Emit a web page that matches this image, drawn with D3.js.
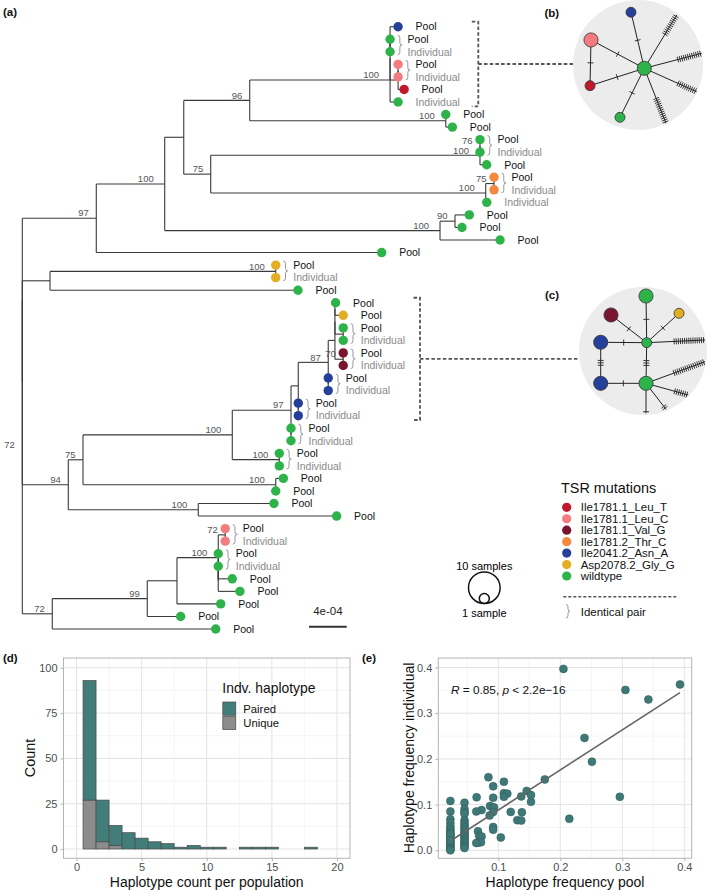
<!DOCTYPE html>
<html><head><meta charset="utf-8">
<script src="https://cdn.jsdelivr.net/npm/d3@7"></script>
<style>body{margin:0;background:#fff}svg{display:block;font-family:"Liberation Sans",Arial,Helvetica,sans-serif}</style>
</head><body><svg id="fig" width="709" height="891"></svg>
<script>
// ======================= DATA =======================
// Phylogeny (branch lengths in units of 1e-4 substitutions/site, internal labels = bootstrap)
const treeNewick = `(
 (
  (
   (
    (
     ((((L1:0.85,(L2:0,L3:0):0):0,((L4:0,L5:0):0,L6:0.64):0.85):0,L7:0.85)100:14.89,
      (L8:0,L9:0.70)100:20.80)96:7.00,
     (((L10:0,L11:0)76:0,L12:0.71)100:28.57,
      ((L13:0,L14:0)75:0.88,L15:0.11)100:29.18)75:2.86
    ):2.02,
    ((L16:1.52,L17:0.74)90:1.59,L18:6.37)100:29.21
   )100:7.26,
   L19:30.28
  )97:7.85,
  (
   ((L20:0,L21:0)100:23.95,L22:26.31):2.94,
   (
    (
     (
      (
       (
        ((((L23:0.07,L24:0.88):0,(L25:0,L26:0):0.88):0,(L27:0,L28:0)70:0.88):0.71,
         (L29:0,L30:0):0)87:3.18,
        (L31:0,L32:0):0
       ):0.77,
       (L33:0,L34:0):0
      )97:6.23,
      (L35:0,L36:0)100:4.99
     )100:15.84,
     (L37:0.81,L38:0)100:20.45
    )75:1.56,
    (L39:8.03,L40:14.68)100:13.79
   )94:4.88
  ):0
 ):0,
 (
  (
   (
    ((L41:0,L42:0)72:0.74,(((L43:0,L44:0):0,L45:1.49):0,L46:2.30):0)100:4.38,
    L47:4.64
   ):3.15,
   L48:3.54
  )99:10.08,
  L49:17.34
 )72:3.18
)72;`;
const scaleBarValue = 4;          // x 1e-4  -> "4e-04"
const scaleBarLabel = "4e-04";

const tipSample = ["Pool","Pool","Individual","Pool","Individual","Pool","Individual",
  "Pool","Pool","Pool","Individual","Pool","Pool","Individual","Individual",
  "Pool","Pool","Pool","Pool",
  "Pool","Individual","Pool",
  "Pool","Pool","Pool","Individual","Pool","Individual","Pool","Individual","Pool","Individual",
  "Pool","Individual","Pool","Individual","Pool","Pool","Pool","Pool",
  "Pool","Individual","Pool","Individual","Pool","Pool","Pool","Pool","Pool"];
const tipMutation = ["Ile2041.2_Asn_A","wildtype","wildtype","Ile1781.1_Leu_C","Ile1781.1_Leu_C","Ile1781.1_Leu_T","wildtype",
  "wildtype","wildtype","wildtype","wildtype","wildtype","Ile1781.2_Thr_C","Ile1781.2_Thr_C","wildtype",
  "wildtype","wildtype","wildtype","wildtype",
  "Asp2078.2_Gly_G","Asp2078.2_Gly_G","wildtype",
  "wildtype","Asp2078.2_Gly_G","wildtype","wildtype","Ile1781.1_Val_G","Ile1781.1_Val_G","Ile2041.2_Asn_A","Ile2041.2_Asn_A","Ile2041.2_Asn_A","Ile2041.2_Asn_A",
  "wildtype","wildtype","wildtype","wildtype","wildtype","wildtype","wildtype","wildtype",
  "Ile1781.1_Leu_C","Ile1781.1_Leu_C","wildtype","wildtype","wildtype","wildtype","wildtype","wildtype","wildtype"];
const identicalPairs = [[2,3],[4,5],[10,11],[13,14],[20,21],[25,26],[27,28],[29,30],[31,32],[33,34],[35,36],[41,42],[43,44]];

const mutationNames  = ["Ile1781.1_Leu_T","Ile1781.1_Leu_C","Ile1781.1_Val_G","Ile1781.2_Thr_C","Ile2041.2_Asn_A","Asp2078.2_Gly_G","wildtype"];
const mutationColors = ["#c0192c","#f47c80","#7a1530","#f5883c","#24409a","#e3ad24","#2db34a"];

// Haplotype network (b): nodes (count 0 = unsampled end of long branch), layout in circle units
const netB_mut   = ["Ile2041.2_Asn_A","Ile1781.1_Leu_C","Ile1781.1_Leu_T","wildtype","wildtype",null,null,null,null];
const netB_count = [1,2,1,2,1,0,0,0,0];
const netB_lx    = [-0.108,-0.723,-0.738,0.097,-0.277,0.595,0.980,0.903,0.431];
const netB_ly    = [-0.811,-0.385,0.318,0.051,0.805,-0.769,-0.180,0.411,0.897];
const netB_edges = [[1,2,1],[1,3,1],[2,3,1],[0,3,1],[4,3,1],[3,5,11],[3,6,12],[3,7,10],[3,8,13]];
// Haplotype network (c)
const netC_mut   = ["wildtype","Ile1781.1_Val_G","Asp2078.2_Gly_G","Ile2041.2_Asn_A","wildtype","Ile2041.2_Asn_A","wildtype",null,null,null,null,null];
const netC_count = [2,2,1,2,1,2,2,0,0,0,0,0];
const netC_lx    = [0.047,-0.500,0.563,-0.661,0.058,-0.661,0.047,0.969,0.969,0.708,0.359,0.047];
const netC_ly    = [-0.859,-0.563,-0.589,-0.136,-0.130,0.505,0.505,-0.172,0.167,0.688,0.911,0.973];
const netC_edges = [[0,4,1],[1,4,1],[2,4,1],[3,4,1],[3,5,3],[4,6,3],[5,6,1],[4,7,15],[6,8,16],[6,9,7],[6,10,2],[6,11,1]];
const sizeLegendCounts = [10,1];

// (d) histogram: haplotype count per population, bins of width 1
const histBin    = [1,2,3,4,5,6,7,8,9,10,11,12,13,14,15,16,17,18];
const histPaired = [66,23,11,9,6,4,3,1,2,1,1,0,1,1,1,0,0,1];
const histUnique = [27,4,2,0,0,0,0,0,0,0,0,0,0,0,0,0,0,0];
const histXTicks = [0,5,10,15,20];
const histYTicks = [0,25,50,75,100];

// (e) haplotype frequency pool vs individual
const freqPool = [
 0.0227,0.0227,0.0227,0.0227,0.0227,0.0227,0.0227,0.0227,0.0227,0.0227,0.0227,0.0227,0.0227,0.0227,0.0227,0.0227,0.0227,0.0227,0.0227,0.0227,0.0227,0.0227,
 0.0455,0.0455,0.0455,0.0455,0.0455,0.0455,0.0455,0.0455,0.0455,0.0455,0.0455,0.0455,0.0455,0.0455,0.0455,0.0455,0.0455,0.0455,0.0455,
 0.205,0.393,0.305,0.342,0.239,0.251,0.296,0.2145,0.175,0.084,0.109,0.0917,0.109,0.1145,0.109,0.1458,0.1527,0.137,0.1527,0.065,
 0.0917,0.0866,0.093,0.073,0.0645,0.0917,0.120,0.138,0.086,0.1306,0.137,0.0917,0.0917,0.104,0.0672,0.069,0.073,0.0672,0.072,0.0645];
const freqIndiv = [
 0.108,0.085,0.068,0.060,0.052,0.047,0.042,0.038,0.034,0.030,0.027,0.024,0.020,0.017,0.014,0.011,0.008,0.005,0.002,0.000,0.036,0.022,
 0.104,0.090,0.083,0.080,0.066,0.060,0.055,0.050,0.045,0.040,0.036,0.032,0.028,0.024,0.020,0.016,0.012,0.008,0.005,
 0.397,0.363,0.351,0.330,0.246,0.194,0.117,0.069,0.155,0.160,0.150,0.140,0.125,0.124,0.117,0.130,0.121,0.118,0.106,0.116,
 0.115,0.097,0.094,0.088,0.085,0.084,0.084,0.083,0.076,0.066,0.065,0.051,0.045,0.028,0.0415,0.032,0.030,0.0167,0.0175,0.016];
// linear fit shown in the figure (coefficients)
const fitSlope = 0.877, fitIntercept = 0.0005;
const scatXTicks = [0.1,0.2,0.3,0.4];
const scatYTicks = [0.0,0.1,0.2,0.3,0.4];

// ======================= DRAWING =======================
const svg = d3.select("#fig");
const colorOf = d3.scaleOrdinal().domain(mutationNames).range(mutationColors);
const LINE = "#3a3a3a";

function parseNewick(s){
  s = s.replace(/\s+/g,""); let i=0;
  function node(){
    const n={children:[],name:"",length:0};
    if(s[i]==="("){ i++; for(;;){ n.children.push(node()); if(s[i]===","){i++;continue;} if(s[i]===")"){i++;break;} } }
    while(i<s.length && !":,();".includes(s[i])) n.name+=s[i++];
    if(s[i]===":"){ i++; let v=""; while(i<s.length && !",();".includes(s[i])) v+=s[i++]; n.length=+v; }
    return n;
  }
  return node();
}
function brace(x,y1,y2,w){
  const ym=(y1+y2)/2, q=Math.min(2.5,(y2-y1)/4), xm=x+w/2;
  return `M${x},${y1}Q${xm},${y1} ${xm},${y1+q}L${xm},${ym-q}Q${xm},${ym} ${x+w},${ym}Q${xm},${ym} ${xm},${ym+q}L${xm},${y2-q}Q${xm},${y2} ${x},${y2}`;
}

// ---------- (a) tree ----------
const root = d3.hierarchy(parseNewick(treeNewick), d => d.children.length ? d.children : null);
root.each(d => { d.dist = d.parent ? d.parent.dist + d.data.length : 0; });
const leaves = root.leaves();
const tx = d3.scaleLinear().domain([0, scaleBarValue]).range([22.3, 22.3 + 37.7]);
const ty = d3.scaleLinear().domain([0, leaves.length - 1]).range([26.7, 629]);
leaves.forEach((l, i) => { l.idx = +l.data.name.slice(1) - 1; l.py = ty(i); });
root.eachAfter(d => { if (d.children) d.py = d3.mean(d.children, c => c.py); d.px = tx(d.dist); });
const byIdx = {}; leaves.forEach(l => byIdx[l.idx] = l);

const gT = svg.append("g");
gT.selectAll("path.h").data(root.descendants().filter(d => d.parent)).join("path")
  .attr("d", d => `M${d.parent.px},${d.py}H${d.px}`).attr("stroke", LINE).attr("stroke-width", 1.1).attr("fill", "none");
gT.selectAll("path.v").data(root.descendants().filter(d => d.children)).join("path")
  .attr("d", d => `M${d.px},${d3.min(d.children, c => c.py)}V${d3.max(d.children, c => c.py)}`)
  .attr("stroke", LINE).attr("stroke-width", 1.1).attr("fill", "none");
// bootstrap labels
gT.selectAll("text.bs").data(root.descendants().filter(d => d.children && d.data.name)).join("text")
  .attr("x", d => d.px - (d.data.name.length * 3.5 + 0.5)).attr("y", d => d.py - 1.8 - (d.parent ? 0 : 7))
  .attr("text-anchor", "end").attr("font-size", 9.5).attr("fill", "#555").text(d => d.data.name);
// identical-pair braces
gT.selectAll("path.br").data(identicalPairs).join("path")
  .attr("d", p => { const a = byIdx[p[0]-1], b = byIdx[p[1]-1]; return brace(Math.max(a.px,b.px) + 7.5, a.py - 4, b.py + 3, 4.5); })
  .attr("fill", "none").attr("stroke", "#8c8c8c").attr("stroke-width", 0.9);
// tip points and labels
gT.selectAll("circle.tip").data(leaves).join("circle")
  .attr("cx", d => d.px).attr("cy", d => d.py).attr("r", 4.7).attr("fill", d => colorOf(tipMutation[d.idx]));
gT.selectAll("text.tip").data(leaves).join("text")
  .attr("x", d => d.px + 17.5).attr("y", d => d.py).attr("dy", "0.36em").attr("font-size", 10.5)
  .attr("fill", d => tipSample[d.idx] === "Pool" ? "#111" : "#8a8a8a").text(d => tipSample[d.idx]);
// scale bar
gT.append("line").attr("x1", 309).attr("x2", 309 + tx(scaleBarValue) - tx(0)).attr("y1", 626.7).attr("y2", 626.7)
  .attr("stroke", "#333").attr("stroke-width", 2);
gT.append("text").attr("x", 309 + (tx(scaleBarValue) - tx(0)) / 2).attr("y", 615).attr("text-anchor", "middle")
  .attr("font-size", 11.5).attr("fill", "#222").text(scaleBarLabel);

// dashed clade brackets linking to networks
function cladeBracket(firstTip, lastTip, bx, targetX){
  const y1 = byIdx[firstTip-1].py - 5, y2 = byIdx[lastTip-1].py + 4.3, ym = (y1 + y2) / 2;
  const g = svg.append("g").attr("fill","none").attr("stroke","#555").attr("stroke-width",1.8).attr("stroke-dasharray","3.5,2.2");
  g.append("path").attr("d", `M${bx-6.5},${y1}H${bx}V${y2}H${bx-6.5}`);
  g.append("path").attr("d", `M${bx},${ym}H${targetX}`);
}
cladeBracket(1, 7, 478.3, 573);
cladeBracket(23, 32, 420, 579);

// ---------- (b),(c) haplotype networks ----------
const rSize = d3.scaleSqrt().domain([0, 1]).range([0, 5]);
function drawNet(cx, cy, R, mut, count, lx, ly, edges){
  const sx = d3.scaleLinear().domain([-1, 1]).range([cx - R, cx + R]);
  const sy = d3.scaleLinear().domain([-1, 1]).range([cy - R, cy + R]);
  const g = svg.append("g");
  g.append("circle").attr("cx", cx).attr("cy", cy).attr("r", R).attr("fill", "#ececec");
  edges.forEach(([a, b, k]) => {
    const x1 = sx(lx[a]), y1 = sy(ly[a]), x2 = sx(lx[b]), y2 = sy(ly[b]);
    g.append("line").attr("x1", x1).attr("y1", y1).attr("x2", x2).attr("y2", y2).attr("stroke", "#222").attr("stroke-width", 1);
    const L = Math.hypot(x2 - x1, y2 - y1), ux = (x2 - x1) / L, uy = (y2 - y1) / L;
    const stub = count[b] === 0;
    const pos = d3.range(k).map(j => stub ? L - 1.5 - j * 2.1 : L / 2 + (j - (k - 1) / 2) * 2.4);
    pos.forEach(p => {
      const px = x1 + ux * p, py = y1 + uy * p;
      g.append("line").attr("x1", px - uy * 3).attr("y1", py + ux * 3).attr("x2", px + uy * 3).attr("y2", py - ux * 3)
        .attr("stroke", "#222").attr("stroke-width", 0.9);
    });
  });
  count.forEach((n, i) => {
    if (!n) return;
    g.append("circle").attr("cx", sx(lx[i])).attr("cy", sy(ly[i])).attr("r", rSize(n))
      .attr("fill", colorOf(mut[i])).attr("stroke", "#333").attr("stroke-width", 0.8);
  });
}
drawNet(638, 65, 65, netB_mut, netB_count, netB_lx, netB_ly, netB_edges);
drawNet(643, 351, 64, netC_mut, netC_count, netC_lx, netC_ly, netC_edges);

// panel tags
[["(a)",3,16],["(b)",544.5,16.5],["(c)",545,299],["(d)",3,662],["(e)",362,662]].forEach(([t,x,y]) =>
  svg.append("text").attr("x", x).attr("y", y).attr("font-size", 11.5).attr("font-weight", "bold").attr("fill", "#111").text(t));

// ---------- legends for (a)-(c) ----------
const gL = svg.append("g");
gL.append("text").attr("x", 561).attr("y", 493).attr("font-size", 14.4).attr("fill", "#111").text("TSR mutations");
gL.selectAll("circle.lg").data(mutationNames).join("circle")
  .attr("cx", 566.7).attr("cy", (d, i) => 507.3 + i * 11.45).attr("r", 4.6).attr("fill", d => colorOf(d));
gL.selectAll("text.lg").data(mutationNames).join("text")
  .attr("x", 580.7).attr("y", (d, i) => 507.3 + i * 11.45).attr("dy", "0.36em").attr("font-size", 11.5).attr("fill", "#111").text(d => d);
gL.append("line").attr("x1", 563.3).attr("x2", 676.7).attr("y1", 596.7).attr("y2", 596.7)
  .attr("stroke", "#555").attr("stroke-width", 1.5).attr("stroke-dasharray", "3,2");
gL.append("path").attr("d", brace(566, 604.5, 618, 4)).attr("fill", "none").attr("stroke", "#8c8c8c").attr("stroke-width", 0.9);
gL.append("text").attr("x", 580.7).attr("y", 611.7).attr("dy", "0.36em").attr("font-size", 11.5).attr("fill", "#111").text("Identical pair");
// size legend
const sizeBottom = 603.5;
sizeLegendCounts.forEach(n => gL.append("circle").attr("cx", 484.3).attr("cy", sizeBottom - rSize(n)).attr("r", rSize(n))
  .attr("fill", "none").attr("stroke", "#111").attr("stroke-width", 1.5));
gL.append("text").attr("x", 484.3).attr("y", 565.7).attr("dy", "0.36em").attr("text-anchor", "middle").attr("font-size", 11).text(sizeLegendCounts[0] + " samples");
gL.append("text").attr("x", 484.3).attr("y", 613.3).attr("dy", "0.36em").attr("text-anchor", "middle").attr("font-size", 11).text(sizeLegendCounts[1] + " sample");

// ---------- shared ggplot-like panel ----------
function panel(xs, ys, xMajor, yMajor, xMinor, yMinor, xFmt, yFmt){
  const [x0, x1] = xs.range(), [y0, y1] = ys.range();
  const g = svg.append("g");
  xMinor.forEach(v => g.append("line").attr("x1", xs(v)).attr("x2", xs(v)).attr("y1", y0).attr("y2", y1).attr("stroke", "#efefef").attr("stroke-width", 0.6));
  yMinor.forEach(v => g.append("line").attr("y1", ys(v)).attr("y2", ys(v)).attr("x1", x0).attr("x2", x1).attr("stroke", "#efefef").attr("stroke-width", 0.6));
  xMajor.forEach(v => g.append("line").attr("x1", xs(v)).attr("x2", xs(v)).attr("y1", y0).attr("y2", y1).attr("stroke", "#e4e4e4").attr("stroke-width", 1));
  yMajor.forEach(v => g.append("line").attr("y1", ys(v)).attr("y2", ys(v)).attr("x1", x0).attr("x2", x1).attr("stroke", "#e4e4e4").attr("stroke-width", 1));
  const ax = g.append("g").attr("transform", `translate(0,${y0})`).call(d3.axisBottom(xs).tickValues(xMajor).tickSize(3).tickPadding(1.5).tickFormat(xFmt));
  const ay = g.append("g").attr("transform", `translate(${x0},0)`).call(d3.axisLeft(ys).tickValues(yMajor).tickSize(3).tickPadding(3).tickFormat(yFmt));
  [ax, ay].forEach(a => { a.select(".domain").remove(); a.selectAll("line").attr("stroke", "#b3b3b3");
    a.selectAll("text").attr("fill", "#4d4d4d").attr("font-size", 11).attr("font-family", null); });
  return g;
}
function border(xs, ys){
  const [x0, x1] = xs.range(), [y0, y1] = ys.range();
  svg.append("rect").attr("x", x0).attr("y", y1).attr("width", x1 - x0).attr("height", y0 - y1)
    .attr("fill", "none").attr("stroke", "#b3b3b3").attr("stroke-width", 1);
}

// ---------- (d) histogram ----------
const hx = d3.scaleLinear().domain([-1, 21]).range([63.5, 350]);
const hy = d3.scaleLinear().domain([-5.13, 105.4]).range([858.3, 658]);
panel(hx, hy, histXTicks, histYTicks, [2.5,7.5,12.5,17.5], [12.5,37.5,62.5,87.5], d3.format("d"), d3.format("d"));
const gH = svg.append("g").attr("stroke", "#4a4a4a").attr("stroke-width", 0.7);
gH.selectAll("rect.u").data(histBin).join("rect")
  .attr("x", d => hx(d - 0.5)).attr("width", d => hx(d + 0.5) - hx(d - 0.5))
  .attr("y", (d, i) => hy(histUnique[i])).attr("height", (d, i) => hy(0) - hy(histUnique[i])).attr("fill", "#8c8c8c");
gH.selectAll("rect.p").data(histBin).join("rect")
  .attr("x", d => hx(d - 0.5)).attr("width", d => hx(d + 0.5) - hx(d - 0.5))
  .attr("y", (d, i) => hy(histUnique[i] + histPaired[i])).attr("height", (d, i) => hy(histUnique[i]) - hy(histUnique[i] + histPaired[i]))
  .attr("fill", "#437d7a");
border(hx, hy);
svg.append("text").attr("transform", "translate(30,758) rotate(-90)").attr("text-anchor", "middle").attr("dy", "0.36em")
  .attr("font-size", 14.5).attr("fill", "#111").text("Count");
svg.append("text").attr("x", 206.7).attr("y", 882).attr("dy", "0.36em").attr("text-anchor", "middle")
  .attr("font-size", 14).attr("fill", "#111").text("Haplotype count per population");
// legend
const hl = svg.append("g");
hl.append("text").attr("x", 222.3).attr("y", 693.3).attr("font-size", 13.9).attr("fill", "#111").text("Indv. haplotype");
[["Paired", "#437d7a"], ["Unique", "#8c8c8c"]].forEach(([t, c], i) => {
  hl.append("rect").attr("x", 222.8).attr("y", 702 + i * 14.3).attr("width", 13).attr("height", 13.3).attr("fill", c).attr("stroke", "#4a4a4a").attr("stroke-width", 0.7);
  hl.append("text").attr("x", 243.3).attr("y", 709 + i * 14.3).attr("dy", "0.36em").attr("font-size", 11.3).attr("fill", "#111").text(t);
});

// ---------- (e) scatter ----------
const sx = d3.scaleLinear().domain([0.0032, 0.4119]).range([438.3, 691.7]);
const sy = d3.scaleLinear().domain([-0.0175, 0.4208]).range([858.3, 658]);
panel(sx, sy, scatXTicks, scatYTicks, [0.05,0.15,0.25,0.35], [0.05,0.15,0.25,0.35], d3.format(".1f"), d3.format(".1f"));
const pts = freqPool.map((x, i) => [x, freqIndiv[i]]);
svg.append("g").selectAll("circle").data(pts).join("circle")
  .attr("cx", d => sx(d[0])).attr("cy", d => sy(d[1])).attr("r", 4)
  .attr("fill", "#3e7877").attr("stroke", "#2e5c5b").attr("stroke-width", 0.5);
const [fx0, fx1] = d3.extent(freqPool);
svg.append("line").attr("x1", sx(fx0)).attr("y1", sy(fitIntercept + fitSlope * fx0)).attr("x2", sx(fx1)).attr("y2", sy(fitIntercept + fitSlope * fx1))
  .attr("stroke", "#666").attr("stroke-width", 1.6);
border(sx, sy);
const ann = svg.append("text").attr("x", 451).attr("y", 690).attr("dy", "0.36em").attr("font-size", 11.8).attr("fill", "#111");
ann.append("tspan").attr("font-style", "italic").text("R");
ann.append("tspan").text(" = 0.85, ");
ann.append("tspan").attr("font-style", "italic").text("p");
ann.append("tspan").text(" < 2.2e\u221216");
svg.append("text").attr("transform", "translate(409,758) rotate(-90)").attr("text-anchor", "middle").attr("dy", "0.36em")
  .attr("font-size", 14).attr("fill", "#111").text("Haplotype frequency individual");
svg.append("text").attr("x", 565).attr("y", 882).attr("dy", "0.36em").attr("text-anchor", "middle")
  .attr("font-size", 14).attr("fill", "#111").text("Haplotype frequency pool");
</script></body></html>
